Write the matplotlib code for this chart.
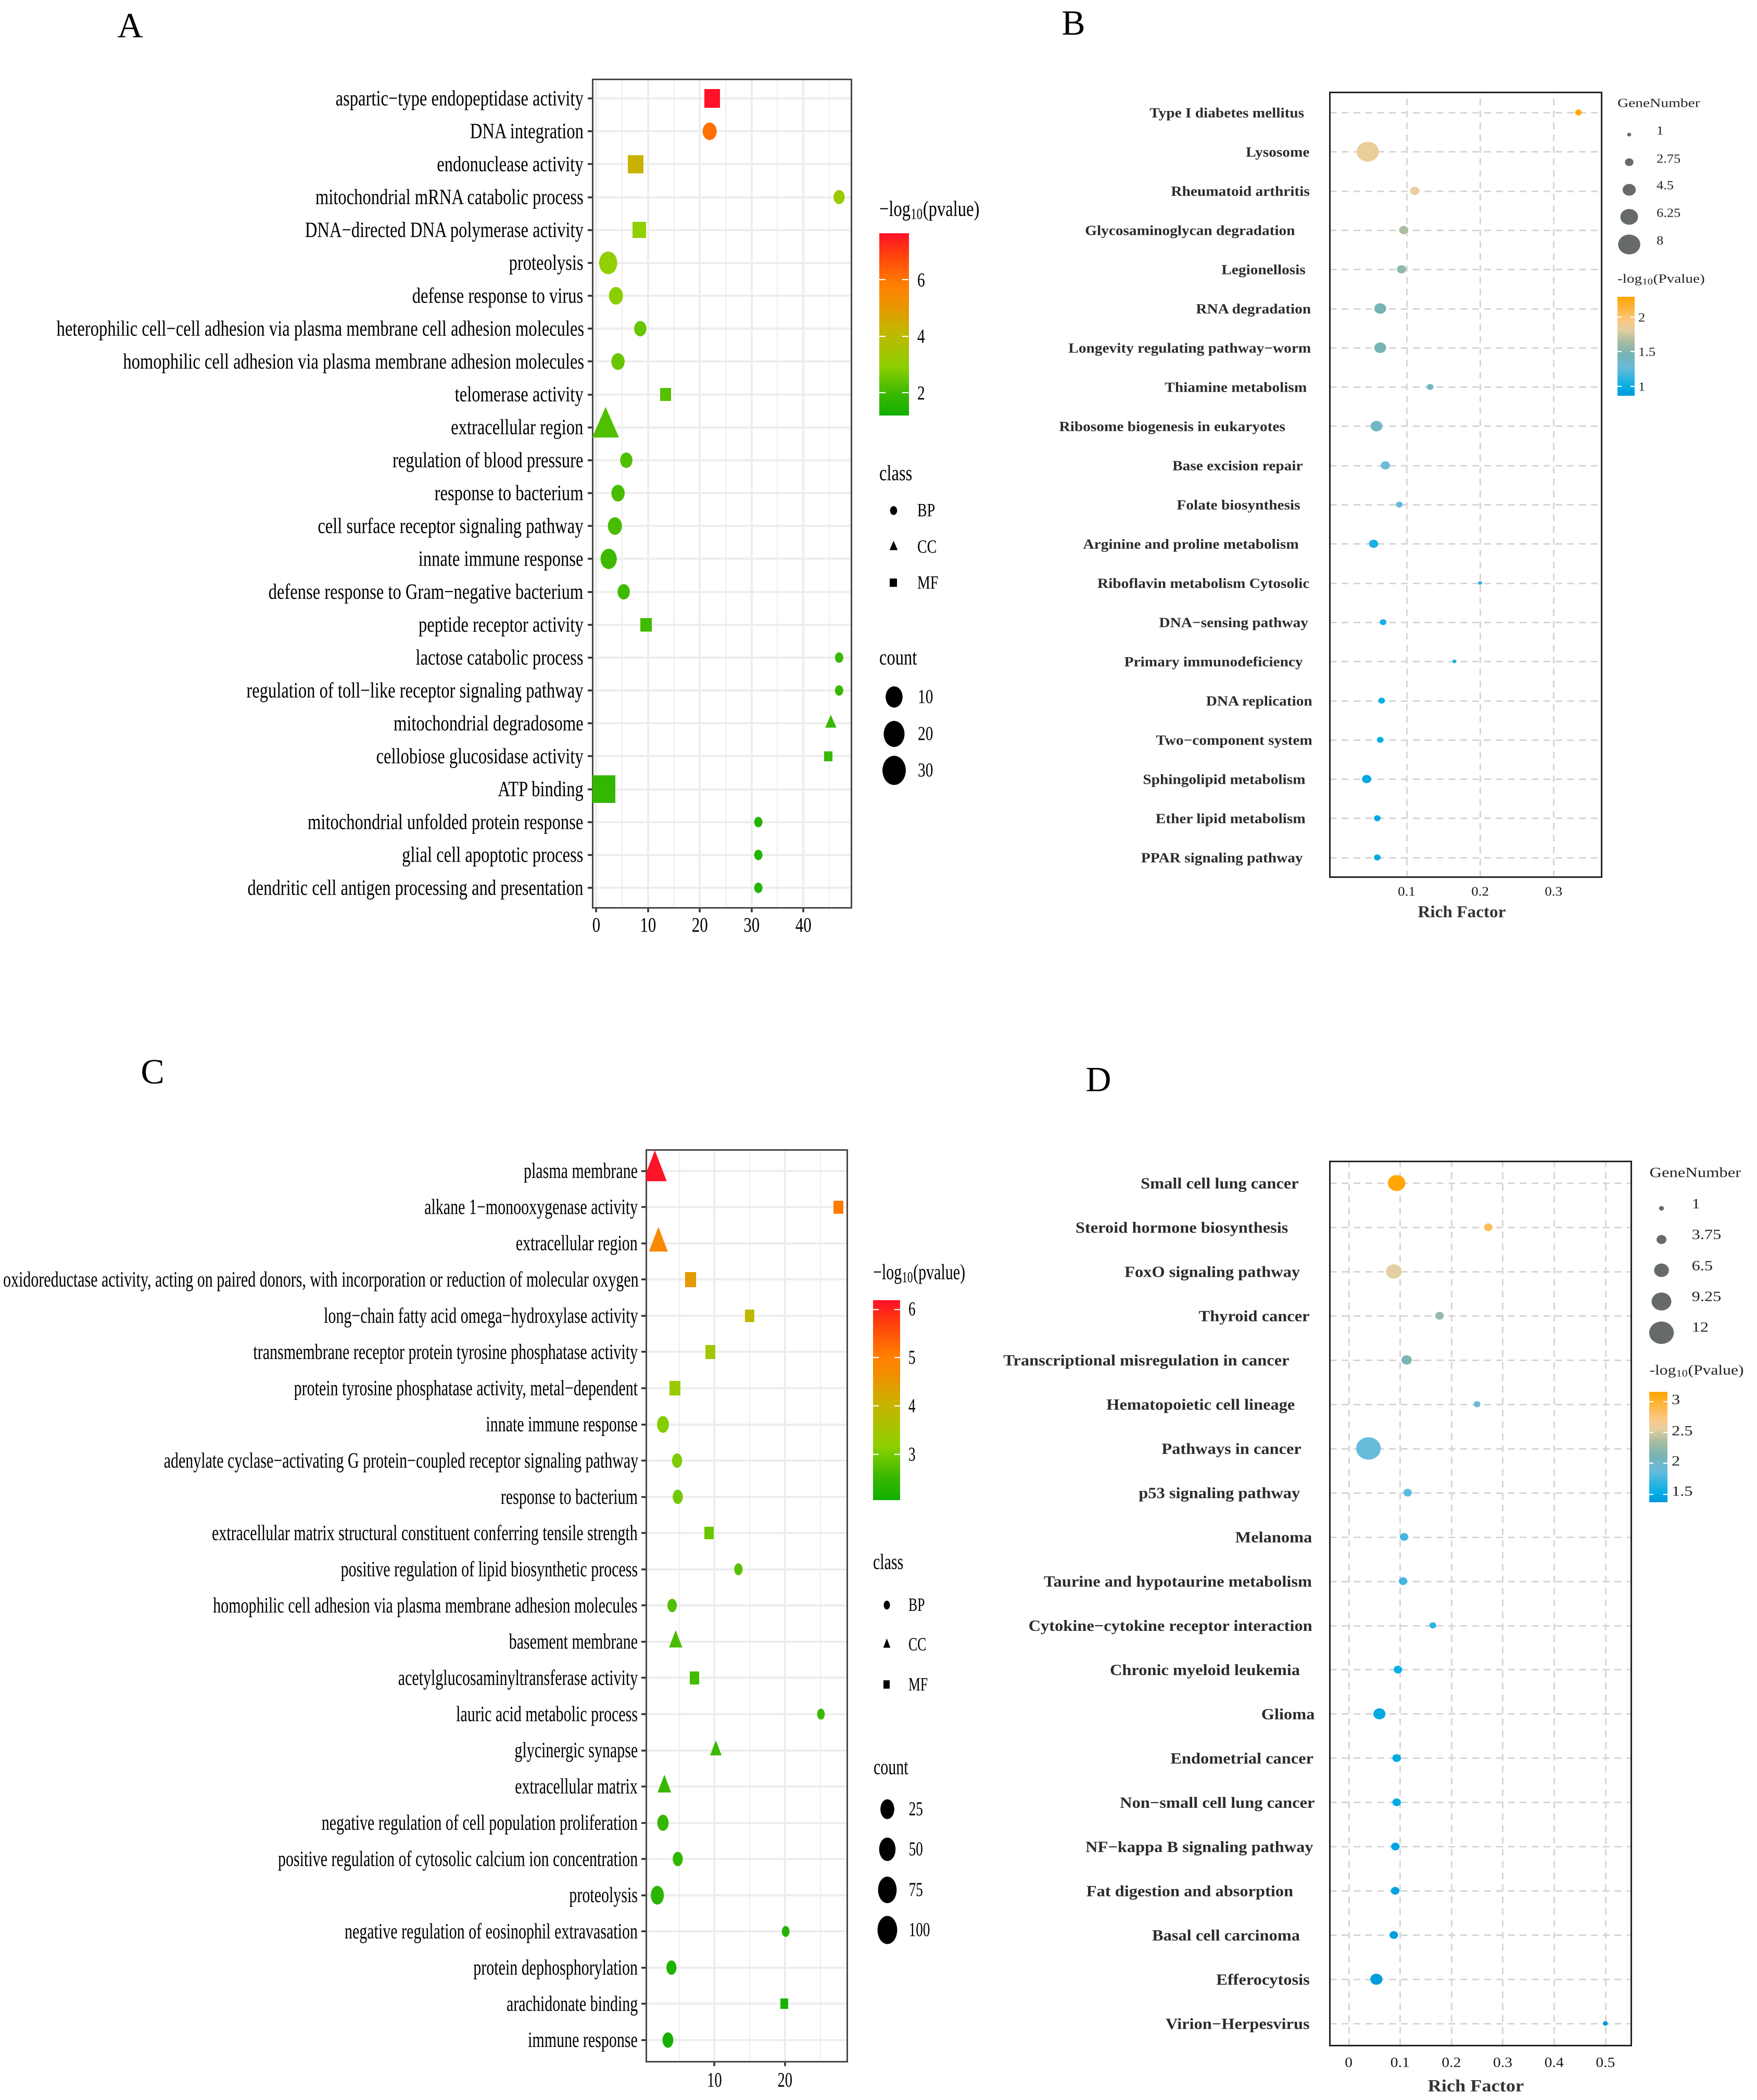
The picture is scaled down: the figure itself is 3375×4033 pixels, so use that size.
# Functional enrichment bubble charts: GO (A, C) and KEGG (B, D) panels

import numpy as np
import matplotlib
matplotlib.use('Agg')
import matplotlib.pyplot as plt
import matplotlib.patheffects as pe
from matplotlib.colors import LinearSegmentedColormap
from matplotlib.font_manager import FontProperties
from matplotlib.markers import MarkerStyle
from matplotlib.textpath import TextPath
from matplotlib.transforms import Affine2D, Bbox, IdentityTransform, blended_transform_factory

plt.rcParams['font.family'] = ['Liberation Serif', 'DejaVu Serif']
plt.rcParams['mathtext.default'] = 'regular'

# Panel A
a_terms = ['aspartic−type endopeptidase activity', 'DNA integration', 'endonuclease activity',
           'mitochondrial mRNA catabolic process', 'DNA−directed DNA polymerase activity', 'proteolysis',
           'defense response to virus', 'heterophilic cell−cell adhesion via plasma membrane cell adhesion molecules',
           'homophilic cell adhesion via plasma membrane adhesion molecules', 'telomerase activity',
           'extracellular region', 'regulation of blood pressure', 'response to bacterium',
           'cell surface receptor signaling pathway', 'innate immune response',
           'defense response to Gram−negative bacterium', 'peptide receptor activity', 'lactose catabolic process',
           'regulation of toll−like receptor signaling pathway', 'mitochondrial degradosome',
           'cellobiose glucosidase activity', 'ATP binding', 'mitochondrial unfolded protein response',
           'glial cell apoptotic process', 'dendritic cell antigen processing and presentation']
a_ratio = [22.4, 21.9, 7.6, 46.9, 8.3, 2.3, 3.8, 8.5, 4.2, 13.4, 1.8, 5.8, 4.2, 3.6, 2.4, 5.3, 9.6, 46.9, 46.9,
           45.3, 44.8, 1.4, 31.3, 31.3, 31.3]
a_count = [8, 6, 8, 3, 5, 13, 6, 4, 5, 3, 30, 4, 5, 6, 9, 4, 3, 1, 1, 2, 1, 30, 1, 1, 1]
a_logp = [7.6, 6.1, 4.3, 3.2, 3.0, 3.0, 2.9, 2.5, 2.5, 2.3, 2.2, 2.2, 2.1, 2.1, 2.0, 2.0, 2.0, 1.9, 1.9, 1.9,
          1.9, 1.8, 1.5, 1.5, 1.5]
a_class = ['MF', 'BP', 'MF', 'BP', 'MF', 'BP', 'BP', 'BP', 'BP', 'MF', 'CC', 'BP', 'BP', 'BP', 'BP', 'BP', 'MF',
           'BP', 'BP', 'CC', 'MF', 'MF', 'BP', 'BP', 'BP']
a_xticks = [0, 10, 20, 30, 40]
a_count_legend = [10, 20, 30]
a_cbar_ticks = [2, 4, 6]

# Panel C
c_terms = ['plasma membrane', 'alkane 1−monooxygenase activity', 'extracellular region',
           'oxidoreductase activity, acting on paired donors, with incorporation or reduction of molecular oxygen',
           'long−chain fatty acid omega−hydroxylase activity', 'transmembrane receptor protein tyrosine phosphatase activity',
           'protein tyrosine phosphatase activity, metal−dependent', 'innate immune response',
           'adenylate cyclase−activating G protein−coupled receptor signaling pathway', 'response to bacterium',
           'extracellular matrix structural constituent conferring tensile strength',
           'positive regulation of lipid biosynthetic process', 'homophilic cell adhesion via plasma membrane adhesion molecules',
           'basement membrane', 'acetylglucosaminyltransferase activity', 'lauric acid metabolic process',
           'glycinergic synapse', 'extracellular matrix', 'negative regulation of cell population proliferation',
           'positive regulation of cytosolic calcium ion concentration', 'proteolysis',
           'negative regulation of eosinophil extravasation', 'protein dephosphorylation', 'arachidonate binding',
           'immune response']
c_ratio = [1.55, 27.6, 2.05, 6.6, 15, 9.4, 4.4, 2.7, 4.7, 4.8, 9.2, 13.4, 4, 4.5, 7.2, 25.1, 10.2, 2.9, 2.7, 4.8,
           1.9, 20.1, 3.9, 19.9, 3.4]
c_count = [120, 9, 50, 14, 8, 10, 14, 17, 10, 10, 8, 5, 8, 16, 8, 3, 10, 17, 15, 10, 22, 3, 10, 3, 13]
c_logp = [6.15, 5.1, 4.85, 4.45, 3.9, 3.45, 3.35, 3.1, 3.05, 2.95, 2.9, 2.75, 2.7, 2.65, 2.6, 2.55, 2.55, 2.5,
          2.45, 2.4, 2.35, 2.25, 2.2, 2.15, 2.1]
c_class = ['CC', 'MF', 'CC', 'MF', 'MF', 'MF', 'MF', 'BP', 'BP', 'BP', 'MF', 'BP', 'BP', 'CC', 'MF', 'BP', 'CC',
           'CC', 'BP', 'BP', 'BP', 'BP', 'BP', 'MF', 'BP']
c_xticks = [10, 20]
c_count_legend = [25, 50, 75, 100]
c_cbar_ticks = [3, 4, 5, 6]

# Panel B
b_terms = ['Type I diabetes mellitus', 'Lysosome', 'Rheumatoid arthritis', 'Glycosaminoglycan degradation',
           'Legionellosis', 'RNA degradation', 'Longevity regulating pathway−worm', 'Thiamine metabolism',
           'Ribosome biogenesis in eukaryotes', 'Base excision repair', 'Folate biosynthesis',
           'Arginine and proline metabolism', 'Riboflavin metabolism Cytosolic', 'DNA−sensing pathway',
           'Primary immunodeficiency', 'DNA replication', 'Two−component system', 'Sphingolipid metabolism',
           'Ether lipid metabolism', 'PPAR signaling pathway']
b_rich = [0.334, 0.047, 0.111, 0.096, 0.093, 0.064, 0.064, 0.132, 0.059, 0.071, 0.09, 0.055, 0.2, 0.068, 0.165,
          0.066, 0.064, 0.0455, 0.06, 0.06]
b_genes = [2, 8, 3, 3, 3, 4, 4, 2, 4, 3, 2, 3, 1, 2, 1, 2, 2, 3, 2, 2]
b_logp = [2.25, 1.85, 1.84, 1.65, 1.55, 1.45, 1.45, 1.42, 1.38, 1.3, 1.25, 1.05, 1.1, 1.05, 1.05, 1.0, 1.0, 0.95,
          0.95, 0.95]
b_xticks = [0.1, 0.2, 0.3]
b_gene_legend = ['1', '2.75', '4.5', '6.25', '8']
b_cbar_ticks = ['1', '1.5', '2']

# Panel D
d_terms = ['Small cell lung cancer', 'Steroid hormone biosynthesis', 'FoxO signaling pathway', 'Thyroid cancer',
           'Transcriptional misregulation in cancer', 'Hematopoietic cell lineage', 'Pathways in cancer',
           'p53 signaling pathway', 'Melanoma', 'Taurine and hypotaurine metabolism',
           'Cytokine−cytokine receptor interaction', 'Chronic myeloid leukemia', 'Glioma', 'Endometrial cancer',
           'Non−small cell lung cancer', 'NF−kappa B signaling pathway', 'Fat digestion and absorption',
           'Basal cell carcinoma', 'Efferocytosis', 'Virion−Herpesvirus']
d_rich = [0.0935, 0.272, 0.088, 0.177, 0.113, 0.25, 0.0386, 0.115, 0.108, 0.106, 0.164, 0.096, 0.06, 0.0935,
          0.0935, 0.091, 0.0906, 0.088, 0.054, 0.5]
d_genes = [8, 3, 7, 3, 4, 2, 12, 3, 3, 3, 2, 3, 5, 3, 3, 3, 3, 3, 5, 1]
d_logp = [3.15, 2.85, 2.55, 2.25, 2.15, 1.95, 1.87, 1.85, 1.75, 1.75, 1.65, 1.55, 1.5, 1.5, 1.5, 1.45, 1.45, 1.42,
          1.4, 1.38]
d_xticks = [0, 0.1, 0.2, 0.3, 0.4, 0.5]
d_gene_legend = ['1', '3.75', '6.5', '9.25', '12']
d_cbar_ticks = ['1.5', '2', '2.5', '3']

W, H = 3375, 4033
PT = 0.72  # one pixel in points at dpi=100

go_cmap = LinearSegmentedColormap.from_list('go', [(0, '#12B000'), (0.12, '#3CB900'), (0.27, '#8FD000'),
                                                   (0.48, '#C8B400'), (0.62, '#F09000'), (0.72, '#FF8000'),
                                                   (0.9, '#FF3B10'), (1, '#FF1028')])
kegg_cmap = LinearSegmentedColormap.from_list('kegg', [(0, '#0098D8'), (0.08, '#00AEE6'), (0.28, '#68BCDC'),
                                                       (0.42, '#78B4B4'), (0.55, '#A9BDA0'), (0.66, '#E3CFA2'),
                                                       (0.75, '#FBC987'), (1, '#FFA500')])

px = Affine2D().scale(1, -1).translate(0, H)  # top-left pixel coordinates


class StretchX(pe.AbstractPathEffect):
    # the source figure was pasted together with each panel resized, so glyphs are squeezed or widened
    def __init__(self, txt, sx):
        super().__init__()
        self.txt = txt
        self.sx = sx

    def draw_path(self, renderer, gc, tpath, affine, rgbFace=None):
        x0 = self.txt.get_transform().transform(self.txt.get_position())[0]
        a = affine + Affine2D().translate(-x0, 0).scale(self.sx, 1).translate(x0, -3)
        renderer.draw_path(gc, tpath, a, rgbFace)


def put(x, y, s, em, sx, ha='left', weight='normal', color='black', trans=px):
    t = fig.text(x, y, s, transform=trans, fontsize=em * PT, ha=ha, va='center', fontweight=weight, color=color)
    t.set_path_effects([StretchX(t, sx)])
    plain_extent = t.get_window_extent

    def extent(renderer=None, dpi=None):
        # report the box of the glyphs as they are drawn
        bb = plain_extent(renderer, dpi)
        x0 = t.get_transform().transform(t.get_position())[0]
        return Bbox.from_extents(x0 + (bb.x0 - x0) * sx, bb.y0 - 3, x0 + (bb.x1 - x0) * sx, bb.y1 - 3)

    t.get_window_extent = extent
    return t


def natural_width(s, em, weight='normal'):
    prop = FontProperties(family='Liberation Serif', weight=weight)
    return TextPath((0, 0), s, size=em, prop=prop).get_extents().width


def fit_sx(s, em, weight, target):
    return target / natural_width(s, em, weight)


def marker(kind, asp):
    if kind == 'BP':
        return MarkerStyle('o', transform=Affine2D().scale(asp, 1))
    if kind == 'MF':
        return MarkerStyle('s', transform=Affine2D().scale(asp, 0.95))
    return MarkerStyle('^', transform=Affine2D().scale(asp * 1.15, 1.05).translate(0, 1.05 / 6))


def dots(ax, xs, ys, heights, kind, asp, **kw):
    ax.scatter(xs, ys, s=(np.asarray(heights) * PT) ** 2, marker=marker(kind, asp), linewidths=0, zorder=3, **kw)


def colorbar(l, r, t, b, vmin, vmax, cmap):
    ax = fig.add_axes([l / W, 1 - b / H, (r - l) / W, (b - t) / H])
    ax.imshow(np.linspace(1, 0, 256).reshape(-1, 1), cmap=cmap, aspect='auto', extent=[0, 1, vmin, vmax])
    ax.set_axis_off()
    return ax


def cbar_ticks(ax, ticks):
    for v in ticks:
        ax.plot([0, 0.2], [v, v], color='white', lw=1.6)
        ax.plot([0.8, 1], [v, v], color='white', lw=1.6)


fig = plt.figure(figsize=(W / 100, H / 100), dpi=100, facecolor='white')
bg = fig.add_axes([0, 0, 1, 1])
bg.set_xlim(0, W)
bg.set_ylim(H, 0)
bg.set_axis_off()


def go_panel(terms, ratio, count, logp, cls, xticks, minor, box, rows, xrange, h_nodes, asp, em, label_right,
             longest_px, tick_y, vrange):
    l, r, t, b = box
    ax = fig.add_axes([l / W, 1 - b / H, (r - l) / W, (b - t) / H])
    first, step = rows
    ys = np.arange(len(terms))
    ax.set_ylim((b - first) / step, (t - first) / step)
    ax.set_xlim(*xrange)
    ax.set_yticks(ys)
    ax.set_xticks(xticks)
    ax.set_xticks(minor, minor=True)
    ax.tick_params(axis='both', which='major', length=9 * PT, width=3.5 * PT, color='#333333',
                   labelleft=False, labelbottom=False)
    ax.tick_params(axis='x', which='minor', length=0)
    ax.grid(axis='y', color='#EDEDED', lw=4 * PT, zorder=0)
    ax.grid(axis='x', which='major', color='#EDEDED', lw=4 * PT, zorder=0)
    ax.grid(axis='x', which='minor', color='#EFEFEF', lw=2.2 * PT, zorder=0)
    ax.set_axisbelow(True)
    for sp in ax.spines.values():
        sp.set_linewidth(3 * PT)
        sp.set_color('#4A4545')
    heights = np.interp(count, h_nodes[0], h_nodes[1])
    for kind in ['BP', 'CC', 'MF']:
        pick = [i for i, c in enumerate(cls) if c == kind]
        dots(ax, np.array(ratio)[pick], ys[pick], heights[pick], kind, asp, c=np.array(logp)[pick], cmap=go_cmap,
             vmin=vrange[0], vmax=vrange[1])
    sx = fit_sx(max(terms, key=len), em, 'normal', longest_px)
    rowtrans = blended_transform_factory(IdentityTransform(), ax.transData)
    for y, term in zip(ys, terms):
        nat = natural_width(term, em)
        if nat > label_right - 20:
            # unsqueezed layout would not fit left of the anchor, so anchor these at their left end
            put(label_right - nat * sx, y, term, em, sx, ha='left', trans=rowtrans)
        else:
            put(label_right, y, term, em, sx, ha='right', trans=rowtrans)
    coltrans = blended_transform_factory(ax.transData, px)
    for v in xticks:
        put(v, tick_y, str(v), em * 0.95, sx, ha='center', trans=coltrans)
    return sx


def kegg_panel(terms, rich, genes, logp, xticks, box, rows, xrange, size, asp, em, right_edges, sx, tick_y,
               tick_em, tick_sx, xlabel, vrange):
    l, r, t, b = box
    ax = fig.add_axes([l / W, 1 - b / H, (r - l) / W, (b - t) / H])
    first, step = rows
    ys = np.arange(len(terms))
    ax.set_ylim((b - first) / step, (t - first) / step)
    ax.set_xlim(*xrange)
    ax.set_yticks(ys)
    ax.set_xticks(xticks)
    ax.tick_params(length=0, labelleft=False, labelbottom=False)
    ax.grid(color='#D6D6D6', lw=3 * PT, linestyle=(0, (4.3, 3.3)), zorder=0)
    ax.set_axisbelow(True)
    for sp in ax.spines.values():
        sp.set_linewidth(3 * PT)
        sp.set_color('#222222')
    heights = size[0] + size[1] * (np.array(genes) - 1)
    dots(ax, rich, ys, heights, 'BP', asp, c=logp, cmap=kegg_cmap, vmin=vrange[0], vmax=vrange[1])
    rowtrans = blended_transform_factory(IdentityTransform(), ax.transData)
    for y, term, edge in zip(ys, terms, right_edges):
        put(edge * 2.572, y, term, em, sx, ha='right', weight='bold', color='#2B2B2B', trans=rowtrans)
    coltrans = blended_transform_factory(ax.transData, px)
    for v in xticks:
        put(v, tick_y, str(v), tick_em, tick_sx, ha='center', color='#1A1A1A', trans=coltrans)
    put(xlabel[0], xlabel[1], 'Rich Factor', xlabel[2], xlabel[3], ha='center', weight='bold', color='#333333')


# ---- A ----
a_sx = go_panel(a_terms, a_ratio, a_count, a_logp, a_class, a_xticks, [5, 15, 25, 35, 45],
                (1137.8, 1634.7, 151.8, 1742.7), (189, 63.17), (-0.76, 49.2),
                ([1, 3, 5, 10, 20, 30, 40], [20, 27, 32, 40.7, 50, 56, 60]), 0.8, 42, 1120.6, 1012, 1777, (1.19, 7.65))
put(1689, 402, '−log$_{10}$(pvalue)', 42, a_sx)
cb = colorbar(1689, 1745, 448, 798, 1.19, 7.65, go_cmap)
cbar_ticks(cb, a_cbar_ticks)
for v, y in zip(a_cbar_ticks, [755, 646, 538]):
    put(1762, y, str(v), 38, a_sx)
put(1689, 909, 'class', 42, a_sx)
for kind, y in zip(['BP', 'CC', 'MF'], [980, 1050, 1119]):
    dots(bg, [1716], [y], [17], kind, 0.8, c='black')
    put(1762, y, kind, 36, a_sx)
put(1689, 1263, 'count', 42, a_sx)
for n, y, h in zip(a_count_legend, [1338, 1409, 1479], [40.7, 50, 56]):
    dots(bg, [1717], [y], [h], 'BP', 0.8, c='black')
    put(1763, y, str(n), 38, a_sx)

# ---- C ----
c_sx = go_panel(c_terms, c_ratio, c_count, c_logp, c_class, c_xticks, [5, 15, 25],
                (1241.4, 1627, 2208, 3959), (2248.7, 69.55), (0.33, 28.8),
                ([1, 3, 10, 15, 25, 50, 75, 100, 130], [18, 21, 27.6, 31, 38, 45, 51, 54, 58]), 0.7, 42, 1225, 1219, 3995,
                (2.05, 6.19))
put(1677, 2444, '−log$_{10}$(pvalue)', 42, c_sx)
cb = colorbar(1677, 1729, 2497, 2881, 2.05, 6.19, go_cmap)
cbar_ticks(cb, c_cbar_ticks)
for v, y in zip(c_cbar_ticks, [2793, 2700, 2607, 2514]):
    put(1745, y, str(v), 38, c_sx)
put(1677, 3000, 'class', 42, c_sx)
for kind, y in zip(['BP', 'CC', 'MF'], [3082, 3158, 3235]):
    dots(bg, [1703], [y], [17], kind, 0.7, c='black')
    put(1745, y, kind, 36, c_sx)
put(1678, 3394, 'count', 42, c_sx)
for n, y, h in zip(c_count_legend, [3474, 3551, 3629, 3706], [38, 45, 51, 54]):
    dots(bg, [1703.6], [y], [h], 'BP', 0.7, c='black')
    put(1745.7, y, str(n), 38, c_sx)

# ---- B ----
b_edges = [974, 978, 978, 967, 975, 979, 979, 976, 960, 973, 971, 970, 978, 977, 973, 980, 980, 975, 975, 973]
b_sx = fit_sx('Longevity regulating pathway−worm', 27, 'bold', 465)
kegg_panel(b_terms, b_rich, b_genes, b_logp, b_xticks, (2553.6, 3075.9, 176.5, 1684), (216, 75.3),
           (-0.0052, 0.365), (7, 4.43), 1.12, 27, b_edges, b_sx, 1711, 25, 1.08, (2808, 1751, 32, 1.04), (0.865, 2.29))
put(3107, 197, 'GeneNumber', 24, fit_sx('GeneNumber', 24, 'normal', 157), color='#222222')
for n, ylab, ysym in zip(b_gene_legend, [250, 304, 355, 408, 461], [258, 311, 364, 416, 469]):
    dots(bg, [3129], [ysym], [7 + 4.43 * (float(n) - 1)], 'BP', 1.12, c='#666A6A')
    put(3182, ylab, n, 24, 1.1, color='#222222')
put(3107, 534, '-log$_{10}$(Pvalue)', 24, 1.22, color='#222222')
cb = colorbar(3107, 3140, 570, 760, 0.865, 2.29, kegg_cmap)
cbar_ticks(cb, [float(v) for v in b_cbar_ticks])
for v, y in zip(b_cbar_ticks, [742, 675, 609]):
    put(3147, y, v, 24, 1.1, color='#222222')

# ---- D ----
d_edges = [970, 962, 971, 978, 963, 967, 972, 971, 980, 980, 980, 971, 982, 981, 982, 981, 966, 971, 978, 978]
d_sx = fit_sx('Transcriptional misregulation in cancer', 30, 'bold', 548)
kegg_panel(d_terms, d_rich, d_genes, d_logp, d_xticks, (2553.6, 3133, 2230, 3928), (2272, 84.95),
           (-0.0375, 0.55), (8.7, 3.12), 1.1, 30, d_edges, d_sx, 3960, 27, 1.1, (2835, 4005, 33, 1.1), (1.37, 3.16))
put(3168.5, 2251, 'GeneNumber', 27, fit_sx('GeneNumber', 27, 'normal', 174), color='#222222')
for n, ylab, ysym in zip(d_gene_legend, [2311, 2370, 2430, 2489, 2548], [2320, 2380, 2439, 2499, 2559]):
    dots(bg, [3191], [ysym], [8.7 + 3.12 * (float(n) - 1)], 'BP', 1.1, c='#666A6A')
    put(3249.6, ylab, n, 27, 1.2, color='#222222')
put(3168.5, 2630, '-log$_{10}$(Pvalue)', 27, 1.17, color='#222222')
cb = colorbar(3168, 3203, 2673, 2885, 1.37, 3.16, kegg_cmap)
cbar_ticks(cb, [float(v) for v in d_cbar_ticks])
for v, y in zip(d_cbar_ticks, [2863, 2805, 2747, 2687]):
    put(3211, y, v, 27, 1.2, color='#222222')

# panel letters
for letter, x, y in zip('ABCD', [250, 2062, 293, 2110], [52, 47, 2061, 2076]):
    put(x, y, letter, 68, 1, ha='center')

fig.savefig('out.png', dpi=100)
